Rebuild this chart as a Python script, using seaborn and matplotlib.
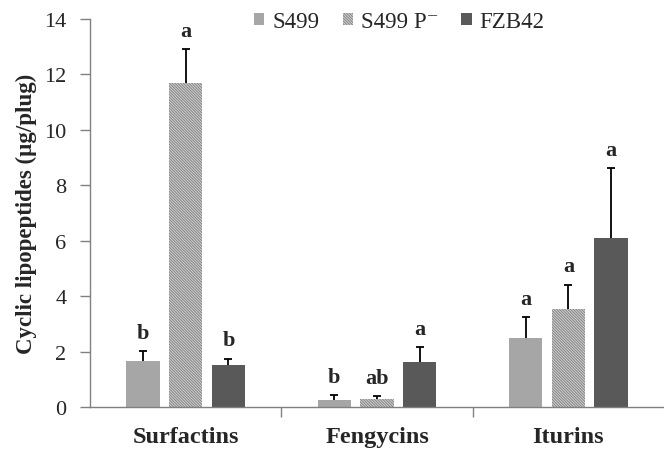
import numpy as np
import pandas as pd
import matplotlib
matplotlib.use("Agg")
import matplotlib.pyplot as plt
import seaborn as sns
from matplotlib.patches import Patch

categories = ["Surfactins", "Fengycins", "Iturins"]
strains = ["S499", "S499 P⁻", "FZB42"]
s499 = [1.66, 0.27, 2.50]
s499p = [11.70, 0.30, 3.52]
fzb42 = [1.50, 1.63, 6.09]
s499_err = [0.36, 0.16, 0.75]
s499p_err = [1.20, 0.10, 0.90]
fzb42_err = [0.25, 0.54, 2.52]
letters_s499 = ["b", "b", "a"]
letters_s499p = ["a", "ab", "a"]
letters_fzb42 = ["b", "a", "a"]

values = [s499, s499p, fzb42]
errors = [s499_err, s499p_err, fzb42_err]
letters = [letters_s499, letters_s499p, letters_fzb42]

rows = []
for si, st in enumerate(strains):
    for ci, cat in enumerate(categories):
        rows.append({"Category": cat, "Strain": st, "Value": values[si][ci]})
df = pd.DataFrame(rows)

sns.set_style("white")
plt.rcParams["font.family"] = ["Liberation Serif", "DejaVu Serif"]
plt.rcParams["hatch.color"] = "#888888"
plt.rcParams["hatch.linewidth"] = 0.8

fig = plt.figure(figsize=(6.64, 4.52), dpi=100)
ax = fig.add_axes([90 / 664, 1 - 408 / 452, 1 - 90 / 664, (408 - 20) / 452])

colors = ["#a6a6a6", "#d8d8d8", "#595959"]
HATCH = "\\" * 12
sns.barplot(data=df, x="Category", y="Value", hue="Strain", order=categories,
            hue_order=strains, palette=colors, width=0.67, gap=0.22,
            errorbar=None, ax=ax, saturation=1, legend=False)

bar_containers = list(ax.containers)
for si, cont in enumerate(bar_containers):
    for ci, patch in enumerate(cont.patches):
        patch.set_edgecolor("none")
        if si == 1:
            patch.set_hatch(HATCH)
            patch.set_edgecolor("#888888")
            patch.set_linewidth(0)
        xc = patch.get_x() + patch.get_width() / 2
        h = patch.get_height()
        e = errors[si][ci]
        ax.vlines(xc, h, h + e, color="black", linewidth=1.3, zorder=3)
        ax.plot([xc], [h + e], marker="_", markersize=6, markeredgewidth=1.3,
                color="black", zorder=3)
        ax.text(xc, h + e + 0.3, letters[si][ci], ha="center", va="bottom",
                fontsize=16, fontweight="bold")

ax.set_xlim(-0.5, 2.5)
ax.set_ylim(0, 14)
ax.set_yticks(np.arange(0, 15, 2))
ax.set_xticks([0.5, 1.5])
ax.set_xticklabels([])
for ci, cat in enumerate(categories):
    ax.text(ci, -0.68, cat, ha="center", va="top", fontsize=17.5, fontweight="bold")
ax.tick_params(axis="y", direction="out", length=7, width=1, color="#808080",
               labelsize=16, pad=10, left=True)
ax.tick_params(axis="x", direction="out", length=7, width=1, color="#808080",
               bottom=True)
ax.set_ylabel("Cyclic lipopeptides (µg/plug)", fontsize=16.5, fontweight="bold", labelpad=5)
ax.set_xlabel("")
for sp in ["top", "right"]:
    ax.spines[sp].set_visible(False)
for sp in ["left", "bottom"]:
    ax.spines[sp].set_color("#808080")
    ax.spines[sp].set_linewidth(1)

handles = [Patch(facecolor=colors[0], edgecolor="none"),
           Patch(facecolor=colors[1], edgecolor="#888888", hatch=HATCH, linewidth=0),
           Patch(facecolor=colors[2], edgecolor="none")]
fig.legend(handles, strains, loc="upper left", bbox_to_anchor=(245 / 664, 1 - 3 / 452),
           ncol=3, frameon=False, fontsize=16.5, handlelength=0.45, handleheight=0.45,
           handletextpad=0.35, columnspacing=1.0, borderaxespad=0)

fig.savefig("out.png", dpi=100)
